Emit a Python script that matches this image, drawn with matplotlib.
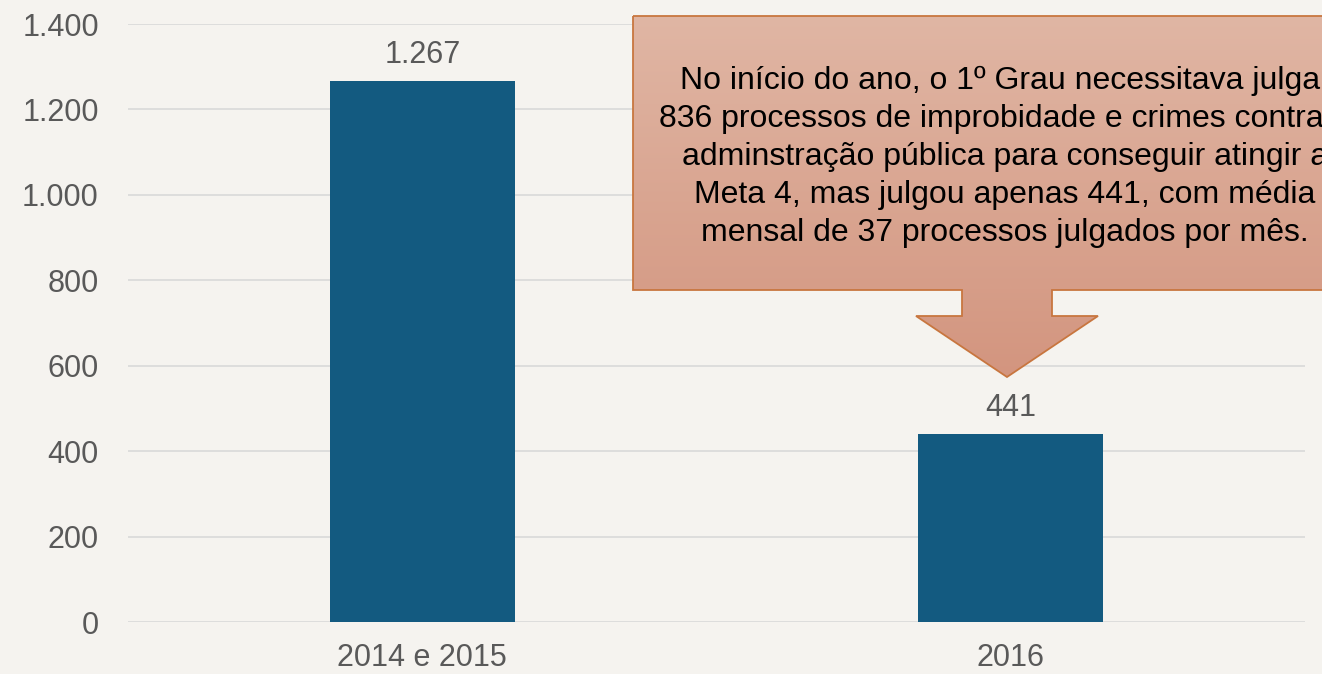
import numpy as np
import matplotlib.pyplot as plt
from matplotlib.path import Path
from matplotlib.patches import PathPatch

plt.rcParams['font.family'] = ['Liberation Sans', 'DejaVu Sans']

categorias = ['2014 e 2015', '2016']
valores = [1267, 441]
rotulos = ['1.267', '441']
yticks = [0, 200, 400, 600, 800, 1000, 1200, 1400]
ytick_labels = ['0', '200', '400', '600', '800', '1.000', '1.200', '1.400']

texto = ('No início do ano, o 1º Grau necessitava julgar\n'
         '836 processos de improbidade e crimes contra a\n'
         'adminstração pública para conseguir atingir a\n'
         'Meta 4, mas julgou apenas 441, com média\n'
         'mensal de 37 processos julgados por mês.')

W, H = 1322, 674
fundo = '#f5f3ef'
cinza = '#595959'

fig = plt.figure(figsize=(W / 100, H / 100), dpi=100, facecolor=fundo)
ax = fig.add_axes([128 / W, 1 - 622 / H, (1305 - 128) / W, (622 - 24) / H])
ax.set_facecolor(fundo)

x = np.arange(len(categorias))
ax.bar(x, valores, width=0.314, color='#135a80', zorder=3)
for xi, v, r in zip(x, valores, rotulos):
    ax.text(xi, v + 42, r, ha='center', va='baseline', fontsize=22, color=cinza)

ax.set_xlim(-0.5, 1.5)
ax.set_ylim(0, 1400)
ax.set_yticks(yticks)
ax.set_yticklabels(ytick_labels)
ax.set_xticks(x)
ax.set_xticklabels(categorias)
ax.tick_params(axis='both', length=0, labelsize=22, labelcolor=cinza)
ax.tick_params(axis='y', pad=21)
ax.tick_params(axis='x', pad=15)
ax.grid(axis='y', color='#d9d9d9', linewidth=1.2, zorder=0)
for s in ax.spines.values():
    s.set_visible(False)

# callout com seta, em coordenadas de pixel
ov = fig.add_axes([0, 0, 1, 1], facecolor='none')
ov.set_xlim(0, W)
ov.set_ylim(H, 0)
ov.axis('off')

pts = [(633, 16), (1381, 16), (1381, 290), (1052, 290), (1052, 316),
       (1098, 316), (1007, 377), (916, 316), (962, 316), (962, 290),
       (633, 290), (633, 16)]
codes = [Path.MOVETO] + [Path.LINETO] * (len(pts) - 2) + [Path.CLOSEPOLY]
caminho = Path(pts, codes)

c1 = np.array([0xe0, 0xb6, 0xa4]) / 255
c2 = np.array([0xd3, 0x95, 0x7f]) / 255
t = np.linspace(0, 1, 256)[:, None]
grad = (c1 + (c2 - c1) * t)[:, None, :]
img = ov.imshow(grad, extent=(633, 1381, 377, 16), aspect='auto', zorder=4)
borda = PathPatch(caminho, facecolor='none', edgecolor='#c8763f', linewidth=1.3, zorder=5)
ov.add_patch(borda)
img.set_clip_path(borda)
ov.set_xlim(0, W)
ov.set_ylim(H, 0)

ov.text(1005, 157, texto, ha='center', va='center', fontsize=23,
        color='black', linespacing=1.34, zorder=6)

fig.savefig('out.png', dpi=100, facecolor=fundo)
